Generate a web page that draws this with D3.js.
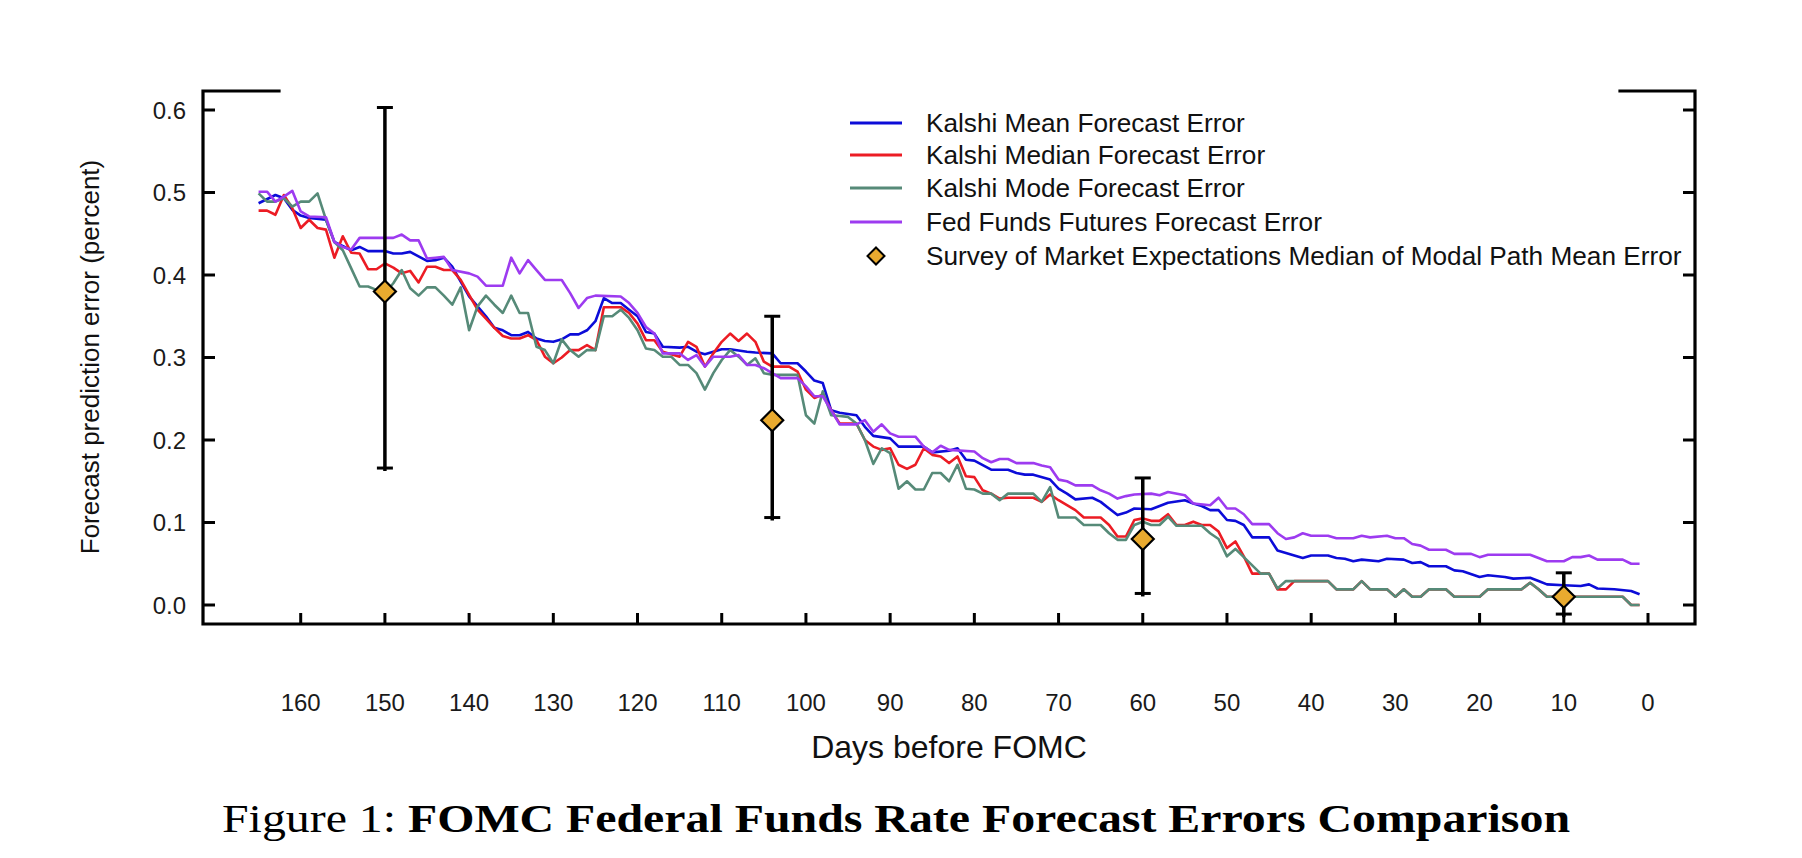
<!DOCTYPE html>
<html>
<head>
<meta charset="utf-8">
<script src="https://cdn.jsdelivr.net/npm/d3@7"></script>
<style>
  body { margin: 0; background: #fff; }
  svg { display: block; }
</style>
</head>
<body>
<div id="vis"></div>
<script>
// data: [days before FOMC, error]
const kalshiMean = [[165,0.487],[163,0.497],[162,0.493],[161,0.479],[160,0.472],[159,0.469],[157,0.467],[156,0.440],[154,0.430],[153,0.434],[152,0.429],[150,0.429],[149,0.426],[148,0.426],[147,0.428],[145,0.417],[144,0.418],[143,0.421],[142,0.410],[141,0.392],[140,0.374],[138,0.350],[137,0.336],[136,0.333],[135,0.327],[134,0.327],[133,0.331],[132,0.323],[131,0.320],[130,0.319],[129,0.322],[128,0.328],[127,0.328],[126,0.333],[125,0.344],[124,0.372],[123,0.366],[122,0.366],[121,0.358],[120,0.350],[119,0.331],[118,0.329],[117,0.313],[115,0.312],[114,0.313],[113,0.307],[112,0.304],[111,0.307],[110,0.310],[109,0.310],[107,0.307],[106,0.306],[104,0.305],[103,0.293],[101,0.293],[100,0.283],[99,0.272],[98,0.269],[97,0.236],[96,0.233],[94,0.230],[93,0.216],[92,0.205],[90,0.202],[89,0.192],[86,0.192],[85,0.185],[83,0.187],[82,0.190],[81,0.176],[80,0.175],[78,0.164],[76,0.164],[75,0.160],[74,0.158],[73,0.158],[71,0.152],[70,0.141],[69,0.135],[68,0.128],[66,0.130],[65,0.125],[64,0.117],[63,0.109],[62,0.112],[61,0.117],[59,0.116],[57,0.124],[55,0.127],[54,0.123],[53,0.120],[52,0.115],[51,0.115],[50,0.103],[49,0.102],[48,0.097],[47,0.082],[45,0.082],[44,0.066],[42,0.060],[41,0.057],[40,0.060],[38,0.060],[37,0.057],[36,0.056],[35,0.053],[34,0.055],[32,0.053],[31,0.056],[29,0.055],[28,0.051],[27,0.052],[26,0.047],[24,0.047],[23,0.042],[22,0.041],[20,0.034],[19,0.036],[17,0.034],[16,0.032],[14,0.033],[13,0.029],[12,0.025],[10,0.024],[8,0.023],[7,0.025],[6,0.020],[4,0.019],[2,0.017],[1,0.013]];

const kalshiMedian = [[165,0.478],[164,0.478],[163,0.473],[162,0.497],[161,0.481],[160,0.457],[159,0.467],[158,0.457],[157,0.455],[156,0.421],[155,0.447],[154,0.427],[153,0.426],[152,0.407],[151,0.407],[150,0.414],[149,0.409],[148,0.402],[147,0.405],[146,0.391],[145,0.410],[144,0.410],[143,0.406],[142,0.406],[141,0.394],[140,0.376],[139,0.358],[138,0.347],[137,0.336],[136,0.326],[135,0.323],[134,0.323],[133,0.327],[132,0.321],[131,0.301],[130,0.293],[129,0.300],[128,0.309],[127,0.309],[126,0.315],[125,0.309],[124,0.361],[122,0.361],[121,0.354],[120,0.341],[119,0.321],[118,0.321],[117,0.307],[115,0.301],[114,0.319],[113,0.313],[112,0.289],[111,0.305],[110,0.319],[109,0.329],[108,0.320],[107,0.329],[106,0.319],[105,0.295],[104,0.289],[102,0.289],[101,0.283],[100,0.261],[99,0.251],[98,0.255],[97,0.236],[96,0.220],[94,0.220],[93,0.200],[92,0.192],[91,0.188],[90,0.190],[89,0.170],[88,0.165],[87,0.170],[86,0.190],[85,0.182],[84,0.180],[83,0.172],[82,0.180],[81,0.156],[80,0.155],[79,0.139],[78,0.135],[77,0.129],[76,0.130],[73,0.130],[72,0.125],[71,0.134],[70,0.127],[69,0.121],[68,0.115],[67,0.106],[65,0.106],[64,0.097],[63,0.083],[62,0.083],[61,0.103],[60,0.105],[59,0.102],[58,0.102],[57,0.110],[56,0.097],[55,0.097],[54,0.101],[53,0.097],[52,0.097],[51,0.089],[50,0.069],[49,0.077],[48,0.059],[47,0.038],[45,0.038],[44,0.019],[43,0.019],[42,0.029],[38,0.029],[37,0.019],[35,0.019],[34,0.029],[33,0.019],[31,0.019],[30,0.010],[29,0.019],[28,0.010],[27,0.010],[26,0.019],[24,0.019],[23,0.010],[20,0.010],[19,0.019],[15,0.019],[14,0.027],[13,0.019],[12,0.010],[3,0.010],[2,0.000],[1,0.000]];

const kalshiMode = [[165,0.499],[164,0.489],[163,0.489],[162,0.493],[161,0.483],[160,0.489],[159,0.489],[158,0.499],[157,0.467],[156,0.440],[155,0.430],[154,0.408],[153,0.386],[152,0.386],[151,0.382],[150,0.378],[149,0.390],[148,0.406],[147,0.384],[146,0.375],[145,0.385],[144,0.385],[143,0.375],[142,0.364],[141,0.385],[140,0.333],[139,0.362],[138,0.375],[137,0.364],[136,0.354],[135,0.375],[134,0.354],[133,0.354],[132,0.313],[131,0.309],[130,0.293],[129,0.322],[128,0.309],[127,0.301],[126,0.309],[125,0.309],[124,0.350],[123,0.350],[122,0.358],[121,0.348],[120,0.333],[119,0.311],[118,0.309],[117,0.301],[116,0.301],[115,0.291],[114,0.291],[113,0.281],[112,0.261],[111,0.281],[110,0.297],[109,0.309],[108,0.301],[107,0.291],[106,0.299],[105,0.281],[104,0.279],[101,0.279],[100,0.230],[99,0.220],[98,0.259],[97,0.230],[96,0.229],[95,0.228],[94,0.220],[93,0.200],[92,0.171],[91,0.190],[90,0.184],[89,0.141],[88,0.150],[87,0.140],[86,0.140],[85,0.160],[84,0.160],[83,0.150],[82,0.170],[81,0.141],[80,0.140],[79,0.135],[78,0.135],[77,0.127],[76,0.135],[73,0.135],[72,0.125],[71,0.143],[70,0.106],[68,0.106],[67,0.097],[65,0.097],[64,0.087],[63,0.079],[62,0.079],[61,0.097],[60,0.101],[59,0.097],[58,0.097],[57,0.107],[56,0.096],[53,0.096],[52,0.087],[51,0.080],[50,0.059],[49,0.068],[48,0.058],[47,0.048],[46,0.038],[45,0.038],[44,0.020],[43,0.029],[38,0.029],[37,0.019],[35,0.019],[34,0.029],[33,0.019],[31,0.019],[30,0.010],[29,0.019],[28,0.010],[27,0.010],[26,0.019],[24,0.019],[23,0.010],[20,0.010],[19,0.019],[15,0.019],[14,0.027],[13,0.019],[12,0.010],[3,0.010],[2,0.000],[1,0.000]];

const fedFunds = [[165,0.501],[164,0.501],[163,0.489],[162,0.495],[161,0.502],[160,0.477],[159,0.471],[157,0.470],[156,0.440],[155,0.434],[154,0.431],[153,0.445],[149,0.445],[148,0.449],[147,0.442],[146,0.442],[145,0.420],[144,0.421],[143,0.422],[142,0.406],[140,0.402],[139,0.398],[138,0.387],[136,0.387],[135,0.421],[134,0.402],[133,0.418],[132,0.406],[131,0.394],[129,0.394],[128,0.378],[127,0.360],[126,0.372],[125,0.375],[122,0.374],[121,0.366],[120,0.354],[119,0.337],[118,0.329],[117,0.305],[115,0.305],[114,0.297],[113,0.303],[112,0.289],[111,0.301],[109,0.301],[108,0.303],[107,0.291],[106,0.291],[105,0.287],[103,0.275],[101,0.275],[100,0.265],[99,0.253],[98,0.253],[97,0.236],[96,0.219],[94,0.219],[93,0.224],[92,0.210],[91,0.219],[90,0.208],[89,0.204],[87,0.204],[86,0.192],[85,0.185],[84,0.193],[83,0.188],[80,0.186],[79,0.178],[78,0.173],[77,0.177],[76,0.177],[75,0.172],[73,0.172],[72,0.169],[71,0.167],[70,0.152],[69,0.150],[68,0.145],[66,0.145],[65,0.139],[64,0.135],[63,0.129],[62,0.132],[61,0.134],[59,0.135],[58,0.133],[57,0.137],[55,0.133],[54,0.123],[52,0.121],[51,0.130],[50,0.117],[49,0.117],[48,0.110],[47,0.098],[45,0.098],[44,0.087],[43,0.080],[42,0.082],[41,0.087],[40,0.084],[38,0.084],[37,0.081],[35,0.081],[34,0.084],[33,0.082],[31,0.084],[30,0.081],[29,0.081],[28,0.074],[27,0.072],[26,0.067],[24,0.067],[23,0.062],[21,0.062],[20,0.058],[19,0.061],[14,0.061],[12,0.053],[10,0.053],[9,0.058],[8,0.058],[7,0.060],[6,0.055],[3,0.055],[2,0.050],[1,0.050]];

// survey of market expectations
const surveyDays = [150, 104, 60, 10];
const surveyMean = [0.380, 0.224, 0.080, 0.010];
const surveyLow = [0.166, 0.106, 0.014, -0.011];
const surveyHigh = [0.603, 0.350, 0.154, 0.039];

const xTicks = [160, 150, 140, 130, 120, 110, 100, 90, 80, 70, 60, 50, 40, 30, 20, 10, 0];
const yTicks = [0, 0.1, 0.2, 0.3, 0.4, 0.5, 0.6];

const seriesNames = ["Kalshi Mean Forecast Error", "Kalshi Median Forecast Error",
  "Kalshi Mode Forecast Error", "Fed Funds Futures Forecast Error"];
const surveyName = "Survey of Market Expectations Median of Modal Path Mean Error";
const COLORS = ["#0c0cd8", "#ec1c24", "#568a78", "#9d3bf0"];
const GOLD = "#e9aa2f";

// frame constants
const FRAME_WIDTH = 1802;
const FRAME_HEIGHT = 858;
const BOX = {left: 203, right: 1695, top: 91, bottom: 624};
const FONT = "'Liberation Sans', Arial, sans-serif";

const SVG = d3.select("#vis")
  .append("svg")
    .attr("width", FRAME_WIDTH)
    .attr("height", FRAME_HEIGHT);

// scales
const X_SCALE = d3.scaleLinear().domain([160, 0]).range([300.7, 1648]);
const Y_SCALE = d3.scaleLinear().domain([0, 0.6]).range([605, 110]);

// lines
const line = d3.line()
  .x(d => X_SCALE(d[0]))
  .y(d => Y_SCALE(d[1]));

[kalshiMean, kalshiMedian, kalshiMode, fedFunds].forEach((s, i) => {
  SVG.append("path")
    .datum(s)
    .attr("d", line)
    .attr("fill", "none")
    .attr("stroke", COLORS[i])
    .attr("stroke-width", 2.6)
    .attr("stroke-linejoin", "round");
});

// error bars + diamonds
const diamond = (cx, cy, r) =>
  `M${cx},${cy - r}L${cx + r},${cy}L${cx},${cy + r}L${cx - r},${cy}Z`;

surveyDays.forEach((d, i) => {
  const x = X_SCALE(d);
  const g = SVG.append("g").attr("stroke", "#000");
  g.append("line")
    .attr("x1", x).attr("x2", x)
    .attr("y1", Y_SCALE(surveyHigh[i])).attr("y2", Y_SCALE(surveyLow[i]) + 3)
    .attr("stroke-width", 3.5);
  [surveyHigh[i], surveyLow[i]].forEach(v => {
    g.append("line")
      .attr("x1", x - 8).attr("x2", x + 8)
      .attr("y1", Y_SCALE(v)).attr("y2", Y_SCALE(v))
      .attr("stroke-width", 3);
  });
  SVG.append("path")
    .attr("d", diamond(x, Y_SCALE(surveyMean[i]), 11))
    .attr("fill", GOLD)
    .attr("stroke", "#000")
    .attr("stroke-width", 2.2);
});

// axes frame (top border is broken where the legend box sits)
SVG.append("path")
  .attr("d", `M279,${BOX.top}H${BOX.left}V${BOX.bottom}H${BOX.right}V${BOX.top}H1620`)
  .attr("fill", "none")
  .attr("stroke", "#000")
  .attr("stroke-width", 3.2)
  .attr("stroke-linecap", "square");

// y ticks, both sides pointing inward
yTicks.forEach(v => {
  const y = Y_SCALE(v);
  SVG.append("line").attr("x1", BOX.left).attr("x2", BOX.left + 12)
    .attr("y1", y).attr("y2", y).attr("stroke", "#000").attr("stroke-width", 3);
  SVG.append("line").attr("x1", BOX.right - 12).attr("x2", BOX.right)
    .attr("y1", y).attr("y2", y).attr("stroke", "#000").attr("stroke-width", 3);
  SVG.append("text")
    .attr("x", 186).attr("y", y)
    .attr("dy", "0.36em")
    .attr("text-anchor", "end")
    .attr("font-family", FONT).attr("font-size", 24)
    .attr("fill", "#1a1a1a")
    .text(d3.format(".1f")(v));
});

// x ticks
xTicks.forEach(d => {
  const x = X_SCALE(d);
  SVG.append("line").attr("x1", x).attr("x2", x)
    .attr("y1", BOX.bottom - 11).attr("y2", BOX.bottom)
    .attr("stroke", "#000").attr("stroke-width", 3);
  SVG.append("text")
    .attr("x", x).attr("y", 711)
    .attr("text-anchor", "middle")
    .attr("font-family", FONT).attr("font-size", 24)
    .attr("fill", "#1a1a1a")
    .text(d);
});

// axis titles
SVG.append("text")
  .attr("x", 949).attr("y", 758)
  .attr("text-anchor", "middle")
  .attr("font-family", FONT).attr("font-size", 32)
  .attr("fill", "#111")
  .text("Days before FOMC");

SVG.append("text")
  .attr("transform", "translate(99,357) rotate(-90)")
  .attr("text-anchor", "middle")
  .attr("font-family", FONT).attr("font-size", 26)
  .attr("fill", "#111")
  .text("Forecast prediction error (percent)");

// legend
const LEG_Y = [123, 155, 188, 222, 256];
seriesNames.forEach((name, i) => {
  SVG.append("line")
    .attr("x1", 850).attr("x2", 902)
    .attr("y1", LEG_Y[i]).attr("y2", LEG_Y[i])
    .attr("stroke", COLORS[i]).attr("stroke-width", 3);
  SVG.append("text")
    .attr("x", 926).attr("y", LEG_Y[i])
    .attr("dy", "0.36em")
    .attr("font-family", FONT).attr("font-size", 26.2)
    .attr("fill", "#111")
    .text(name);
});
SVG.append("path")
  .attr("d", diamond(876, LEG_Y[4], 8.5))
  .attr("fill", GOLD).attr("stroke", "#000").attr("stroke-width", 2);
SVG.append("text")
  .attr("x", 926).attr("y", LEG_Y[4])
  .attr("dy", "0.36em")
  .attr("font-family", FONT).attr("font-size", 26.2)
  .attr("fill", "#111")
  .text(surveyName);

// caption
const CAP = SVG.append("text")
  .attr("x", 222).attr("y", 832)
  .attr("textLength", 1348)
  .attr("lengthAdjust", "spacingAndGlyphs")
  .attr("font-family", "'Liberation Serif', 'Times New Roman', serif")
  .attr("font-size", 40)
  .attr("fill", "#000");
CAP.append("tspan").text("Figure 1: ");
CAP.append("tspan").attr("font-weight", "bold")
  .text("FOMC Federal Funds Rate Forecast Errors Comparison");
</script>
</body>
</html>
